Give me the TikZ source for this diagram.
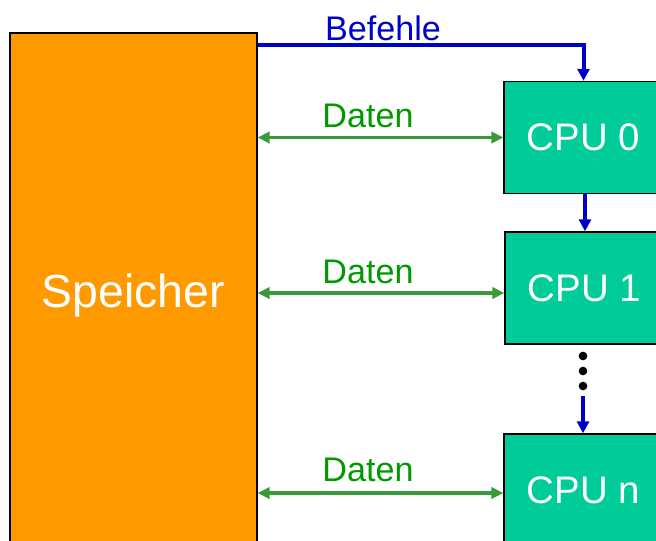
\documentclass[tikz,border=0pt]{standalone}
\usepackage{fontspec}
\setmainfont{Liberation Sans}
\usetikzlibrary{arrows.meta}
\definecolor{memorange}{HTML}{FF9900}
\definecolor{cputeal}{HTML}{00CC99}
\definecolor{befblue}{HTML}{0000CC}
\definecolor{datgreen}{HTML}{3A9A3A}
\definecolor{dattext}{HTML}{009900}
\begin{document}
\begin{tikzpicture}[x=0.75pt,y=-0.75pt,
  line join=miter,
  mem/.style={draw,line width=1.1pt,fill=memorange,text=white,minimum width=185.25pt,minimum height=393pt,inner sep=0pt,font=\fontsize{34.8}{36}\selectfont},
  cpu/.style={draw,line width=1.1pt,fill=cputeal,text=white,minimum width=119.25pt,minimum height=84pt,inner sep=0pt,font=\fontsize{28.8}{30}\selectfont},
  dot/.style={circle,fill=black,minimum size=6.5pt,inner sep=0pt},
  lbl/.style={font=\fontsize{25.6}{27}\selectfont},
  bef/.style={befblue,line width=3pt,-{Triangle[length=9pt,width=9pt]}},
  dat/.style={datgreen,line width=2.4pt,{Triangle[length=9pt,width=8.5pt]}-{Triangle[length=9pt,width=8.5pt]}}]

  \useasboundingbox (0,0) rectangle (656,540);
  \clip (0,0) rectangle (656,540);

  %% ---- boxes
  \node[mem] (mem) at (133.5,295) {Speicher};
  \node[cpu] (cpu0) at (583.5,137.5) {CPU 0};
  \node[cpu] (cpu1) at (584.5,288) {CPU 1};
  \node[cpu] (cpun) at (583.5,490) {CPU n};

  %% ---- dots between CPU 1 and CPU n
  \node[dot] (dot1) at (583,356) {};
  \node[dot] (dot2) at (583,371) {};
  \node[dot] (dot3) at (583,386) {};

  %% ---- command line (blue)
  \coordinate (befs) at (mem.east |- 0,45);
  \draw[bef] (befs) -| (cpu0.north);
  \node[lbl,text=befblue] (befl) at (383,28) {Befehle};
  \draw[bef] (cpu0.south -| 585,0) -- (cpu1.north -| 585,0);
  \coordinate (vdots) at (583,396);
  \draw[bef] (vdots) -- (cpun.north -| 583,0);

  %% ---- data lines (green)
  \draw[dat] (mem.east |- cpu0.west) -- (cpu0.west);
  \node[lbl,text=dattext] (dat0) at (368,116) {Daten};
  \coordinate (d1) at (cpu1.west |- 0,293);
  \draw[dat] (mem.east |- d1) -- (d1);
  \node[lbl,text=dattext] (dat1) at (368,272) {Daten};
  \draw[dat] (mem.east |- 0,493) -- (cpun.west |- 0,493);
  \node[lbl,text=dattext] (datn) at (368,470) {Daten};
\end{tikzpicture}
\end{document}
